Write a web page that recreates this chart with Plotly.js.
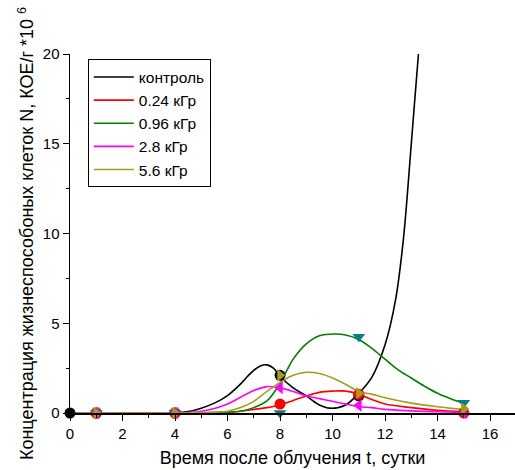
<!DOCTYPE html>
<html><head><meta charset="utf-8">
<script src="https://cdn.plot.ly/plotly-3.0.1.min.js"></script>
<style>html,body{margin:0;padding:0;background:#fff}</style>
</head><body><div id="chart" style="width:515px;height:470px"></div>
<script>
// Series names
const seriesNames = ['контроль', '0.24 кГр', '0.96 кГр', '2.8 кГр', '5.6 кГр'];

// Fitted curves
const ctrlCurveX = [0, 4, 4.5, 5, 5.5, 6, 6.5, 6.75, 7, 7.25, 7.5, 7.75, 8, 8.5, 9, 9.5, 9.9, 10.5, 11, 11.5, 12, 12.4, 12.7, 13, 13.3, 13.4];
const ctrlCurveY = [0, 0, 0.08, 0.27, 0.55, 0.97, 1.62, 2.02, 2.38, 2.62, 2.68, 2.5, 2.05, 1.4, 0.95, 0.45, 0.27, 0.45, 1.1, 2.0, 3.8, 6.3, 9.7, 15.0, 20.5, 22];

const c024CurveX = [0, 4, 5, 6, 6.5, 7, 7.5, 8, 8.5, 9, 9.5, 10, 10.5, 11, 11.5, 12, 13, 14, 15];
const c024CurveY = [0, 0, 0.01, 0.05, 0.1, 0.2, 0.3, 0.45, 0.7, 0.95, 1.15, 1.22, 1.22, 1.05, 0.75, 0.5, 0.3, 0.15, 0.07];

const c096CurveX = [0, 4, 5.5, 6.5, 7, 7.5, 7.75, 8, 8.25, 8.5, 9, 9.5, 10.1, 10.5, 11, 11.5, 12, 12.5, 13, 13.5, 14, 14.5, 15];
const c096CurveY = [0, 0, 0.03, 0.1, 0.3, 0.68, 1.1, 1.65, 2.35, 3.0, 3.85, 4.3, 4.4, 4.35, 4.1, 3.6, 3.0, 2.4, 1.95, 1.5, 1.1, 0.8, 0.55];

const c28CurveX = [0, 4, 4.5, 5, 5.5, 6, 6.5, 7, 7.5, 8, 8.5, 9, 9.5, 10, 10.5, 11, 11.5, 12, 13, 14, 15];
const c28CurveY = [0, 0, 0.03, 0.1, 0.25, 0.5, 0.88, 1.25, 1.47, 1.4, 1.2, 0.95, 0.8, 0.65, 0.5, 0.35, 0.3, 0.2, 0.12, 0.07, 0.03];

const c56CurveX = [0, 4, 5, 6, 6.5, 7, 7.5, 8, 8.5, 9, 9.5, 10, 10.5, 11, 11.5, 12, 13, 14, 15];
const c56CurveY = [0, 0, 0.02, 0.1, 0.3, 0.65, 1.2, 1.7, 2.1, 2.27, 2.2, 1.95, 1.6, 1.2, 1.05, 0.85, 0.55, 0.35, 0.2];

// Measured points
const ctrlPtsX = [0, 1, 4, 8, 11];
const ctrlPtsY = [0, 0, 0, 2.1, 0.95];
const c024PtsX = [1, 4, 8, 11, 15];
const c024PtsY = [0, 0, 0.5, 1.05, 0];
const c096PtsX = [1, 4, 8, 11, 15];
const c096PtsY = [0, 0, 0, 4.25, 0.57];
const c28PtsX = [1, 4, 8, 11, 15];
const c28PtsY = [0, 0, 1.4, 0.42, 0];
const c56PtsX = [1, 4, 8, 11, 15];
const c56PtsY = [0, 0, 2.1, 1.1, 0.24];

const xTitle = 'Время после облучения t, сутки';
const yTitle = 'Концентрация жизнеспособоных клеток N, КОЕ/г *10 <sup>6</sup>';

const lineColors = ['#000000', '#FF0000', '#008000', '#FF00FF', '#A39C1E'];
const markerColors = ['#000000', '#FF0000', '#008080', '#FF00FF', '#A39C1E'];
const symbols = ['circle', 'circle', 'triangle-down', 'triangle-left', 'triangle-right'];

const curvesX = [ctrlCurveX, c024CurveX, c096CurveX, c28CurveX, c56CurveX];
const curvesY = [ctrlCurveY, c024CurveY, c096CurveY, c28CurveY, c56CurveY];
const ptsX = [ctrlPtsX, c024PtsX, c096PtsX, c28PtsX, c56PtsX];
const ptsY = [ctrlPtsY, c024PtsY, c096PtsY, c28PtsY, c56PtsY];

const traces = [];
for (let i = 0; i < 5; i++) {
  traces.push({
    x: curvesX[i], y: curvesY[i], type: 'scatter', mode: 'lines',
    name: seriesNames[i],
    line: {color: lineColors[i], width: 1.6, shape: 'spline', smoothing: 1},
    showlegend: true
  });
}
for (let i = 0; i < 5; i++) {
  traces.push({
    x: ptsX[i], y: ptsY[i], type: 'scatter', mode: 'markers',
    name: seriesNames[i],
    marker: {color: markerColors[i], symbol: symbols[i], size: 11},
    showlegend: false, cliponaxis: false
  });
}

const font = {family: 'Liberation Sans, Arial, sans-serif', color: '#000'};
const layout = {
  width: 515, height: 470,
  margin: {l: 70, r: 0, t: 54, b: 57},
  paper_bgcolor: '#fff', plot_bgcolor: '#fff',
  font: Object.assign({size: 15}, font),
  showlegend: true,
  legend: {
    x: 0.04, y: 0.985, xanchor: 'left', yanchor: 'top',
    bordercolor: '#000', borderwidth: 1, bgcolor: '#fff',
    font: Object.assign({size: 15.5}, font),
    itemwidth: 40,
    tracegroupgap: 0
  },
  xaxis: {
    range: [0, 16.95], showgrid: false, zeroline: false,
    showline: true, linecolor: '#000', linewidth: 1.5,
    ticks: 'outside', tickcolor: '#000', ticklen: 6, tickwidth: 1,
    dtick: 2, tick0: 0,
    minor: {dtick: 1, ticks: 'outside', ticklen: 3, tickcolor: '#000'},
    tickfont: Object.assign({size: 15}, font),
    title: {text: xTitle, font: Object.assign({size: 18}, font), standoff: 11}
  },
  yaxis: {
    range: [0, 20], showgrid: false, zeroline: false,
    showline: true, linecolor: '#000', linewidth: 1.5,
    ticks: 'outside', tickcolor: '#000', ticklen: 6, tickwidth: 1,
    dtick: 5, tick0: 0,
    minor: {dtick: 2.5, ticks: 'outside', ticklen: 3, tickcolor: '#000'},
    tickfont: Object.assign({size: 15}, font),
    title: {text: yTitle, font: Object.assign({size: 18}, font), standoff: 4}
  }
};
Plotly.newPlot('chart', traces, layout, {displayModeBar: false, staticPlot: true});
</script></body></html>
